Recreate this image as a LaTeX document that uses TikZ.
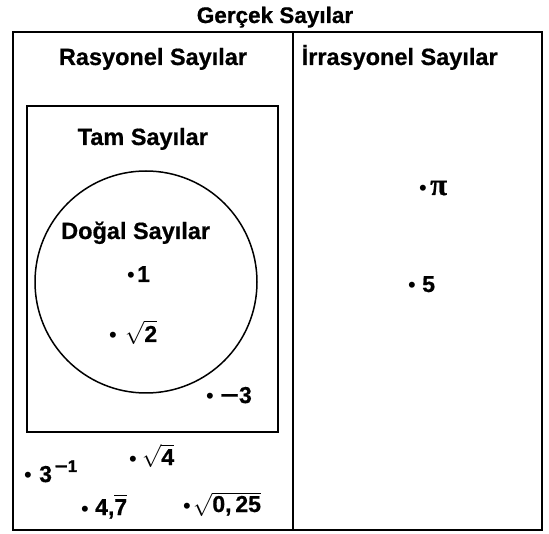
\documentclass[tikz,border=0pt]{standalone}
\usepackage{fix-cm}
\usepackage{amsmath}
\usepackage{graphicx}
\usepackage{fontspec}
\setmainfont{Liberation Sans}[BoldFeatures={FakeBold=0.7}]
\newfontfamily\piserif{Liberation Serif}[BoldFeatures={FakeBold=0.7}]
\newcommand\hdfont{\fontsize{23.5}{28}\selectfont\bfseries}
\newcommand\ttlfont{\fontsize{22.5}{27}\selectfont\bfseries}
\newcommand\lblfont{\fontsize{23}{27}\selectfont\bfseries}
\newcommand\bul[1]{\makebox[#1pt][l]{\raisebox{-1pt}{\fontsize{22}{22}\selectfont\mdseries •}}}
\newcommand\rt[1]{$\sqrt{\mbox{#1}}$}
\begin{document}
\begin{tikzpicture}[x=1pt,y=-1pt,
  hd/.style={inner sep=0pt,font=\hdfont},
  lbl/.style={inner sep=0pt,anchor=base west,font=\lblfont},
  thickbox/.style={draw,line width=2.4pt},
  thinbox/.style={draw,line width=1.5pt}]
\useasboundingbox (0,0) rectangle (549,534);
% frames
\draw[thickbox] (13,32) rectangle (542,530);
\draw[thickbox] (293,32) -- (293,530);
\draw[thinbox] (27,106) rectangle (278,432);
\draw[thinbox] (146,282) circle (111);
% headings
\node[hd,font=\ttlfont,anchor=base] (gercek) at (275,23) {Gerçek Sayılar};
\node[hd,anchor=base] (rasyonel) at (153,65) {Rasyonel Sayılar};
\node[hd,anchor=base west] (irrasyonel) at (301.5,65) {İrrasyonel Sayılar};
\node[hd,anchor=base west] (tam) at (77.5,145) {Tam Sayılar};
\node[hd,anchor=base west] (dogal) at (61,239) {Doğal Sayılar};
% elements
\node[lbl] (one) at (127,282) {\bul{10}1};
\node[lbl] (sqrttwo) at (109,342) {\bul{16}\rt{2}};
\node[lbl] (minusthree) at (206,403) {\bul{14}\scalebox{1.4}[1]{−}3};
\node[lbl] (pi) at (419,195) {\bul{11}{\piserif\bfseries\fontsize{31}{33}\selectfont π}};
\node[lbl] (five) at (408,292) {\bul{14}5};
\node[lbl] (threeinv) at (24,482) {\bul{15}3\raisebox{10pt}{\fontsize{17}{17}\selectfont\,\scalebox{1.3}[1]{−}1}};
\node[lbl] (sqrtfour) at (129,465) {\bul{13}\rt{4}};
\node[lbl] (fourseven) at (81,515) {\bul{14}4,$\overline{\mbox{7}}$};
\node[lbl] (sqrtquarter) at (183,512) {\bul{10}\rt{0,\,25}};
\end{tikzpicture}
\end{document}
